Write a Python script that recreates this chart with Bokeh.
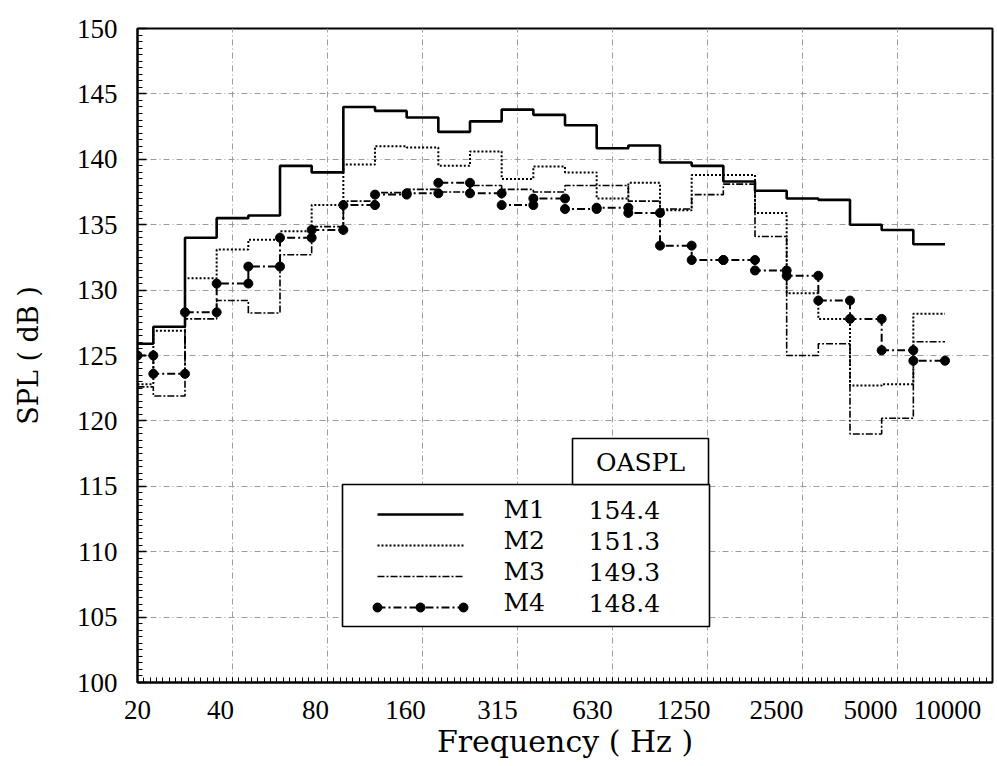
from bokeh.plotting import figure
from bokeh.models import FixedTicker, Range1d, CustomJSTickFormatter
from bokeh.core.properties import value
from bokeh.embed import file_html
from bokeh.resources import INLINE

# ---------------- data ----------------
bands = ["20", "25", "31.5", "40", "50", "63", "80", "100", "125", "160", "200", "250",
         "315", "400", "500", "630", "800", "1000", "1250", "1600", "2000", "2500",
         "3150", "4000", "5000", "6300", "8000", "10000"]
tick_bands = ["20", "40", "80", "160", "315", "630", "1250", "2500", "5000", "10000"]

m1 = [125.9, 127.2, 134.0, 135.5, 135.7, 139.5, 139.0, 144.0, 143.7, 143.2, 142.1, 142.9, 143.8,
      143.4, 142.6, 140.85, 141.05, 139.75, 139.5, 138.3, 137.6, 137.0, 136.9, 135.0, 134.6, 133.5]
m2 = [122.8, 126.9, 130.9, 133.1, 133.85, 134.5, 136.5, 139.6, 141.0, 140.9, 139.5, 140.6, 138.5,
      139.45, 139.0, 137.0, 138.2, 136.1, 138.8, 138.8, 135.9, 129.75, 127.8, 122.7, 122.8, 128.2]
m3 = [122.6, 121.9, 127.8, 129.2, 128.25, 132.7, 134.85, 136.8, 137.45, 137.7, 137.5, 138.0, 137.7,
      137.5, 138.0, 138.0, 136.8, 136.2, 137.3, 138.1, 134.1, 125.0, 125.9, 119.0, 120.2, 126.05]
m4 = [125.0, 123.6, 128.3, 130.5, 131.8, 134.0, 134.6, 136.5, 137.3, 137.4, 138.2, 137.4, 136.5,
      137.0, 136.2, 136.3, 135.9, 133.4, 132.3, 132.3, 131.5, 131.1, 129.2, 127.8, 125.4, 124.6]
names = ["M1", "M2", "M3", "M4"]
oaspl = ["154.4", "151.3", "149.3", "148.4"]
y_ticks = list(range(100, 151, 5))

# ---------------- layout helpers ----------------
FRAME_L, FRAME_T, FRAME_W, FRAME_H = 137, 28, 855, 654
X0, X1 = 0, len(bands) - 1
Y0, Y1 = 100, 150
PXB = FRAME_W / (X1 - X0)
PXD = FRAME_H / (Y1 - Y0)


def dx(px):
    return X0 + (px - FRAME_L) / PXB


def dy(py):
    return Y1 - (py - FRAME_T) / PXD


p = figure(width=997, height=762, output_backend="svg", toolbar_location=None,
           x_range=Range1d(X0, X1), y_range=Range1d(Y0, Y1),
           min_border_left=FRAME_L, min_border_right=5, min_border_top=FRAME_T,
           min_border_bottom=80,
           x_axis_label="Frequency ( Hz )", y_axis_label="SPL ( dB )")
p.background_fill_color = "white"
p.border_fill_color = "white"
p.outline_line_color = "black"
p.outline_line_width = 2

TICK_FONT = "Liberation Serif"
TICK_SIZE = "27px"

# ---------------- axes ----------------
tick_idx = [bands.index(t) for t in tick_bands]
# x tick labels sit a little left of their gridline (pixel nudges)
label_shift_px = [0, -12, -12, -17, -20, -20, -24, -26, -27, -45]
label_pos = [i + s / PXB for i, s in zip(tick_idx, label_shift_px)]
minor_x = [k * 0.2 for k in range(int((X1 - X0) / 0.2) + 1)]

xa = p.xaxis[0]
xa.ticker = FixedTicker(ticks=label_pos, minor_ticks=minor_x)
xa.formatter = CustomJSTickFormatter(args=dict(pos=label_pos, labs=tick_bands), code="""
let b = 0;
for (let i = 0; i < pos.length; i++) { if (Math.abs(pos[i] - tick) < Math.abs(pos[b] - tick)) b = i; }
return labs[b];
""")
xa.major_tick_line_color = None
xa.minor_tick_in = 5
xa.minor_tick_out = 0
xa.major_label_standoff = 12

ya = p.yaxis[0]
ya.ticker = FixedTicker(ticks=y_ticks, minor_ticks=[100 + 0.5 * k for k in range(101)])
ya.major_tick_in = 9
ya.major_tick_out = 0
ya.minor_tick_in = 5
ya.minor_tick_out = 0
ya.major_label_standoff = 20
ya.axis_label_standoff = 30

for ax in (xa, ya):
    ax.axis_line_color = "black"
    ax.axis_line_width = 2
    ax.major_tick_line_width = 1.5
    ax.minor_tick_line_color = "black"
    ax.major_label_text_font = TICK_FONT
    ax.major_label_text_font_size = TICK_SIZE
    ax.major_label_text_color = "black"
    ax.axis_label_text_font = "DejaVu Serif"
    ax.axis_label_text_font_style = "normal"
    ax.axis_label_text_color = "black"
xa.axis_label_text_font_size = "30px"
xa.axis_label_standoff = 2
ya.axis_label_text_font_size = "27px"

p.xgrid.ticker = FixedTicker(ticks=tick_idx)
p.ygrid.ticker = FixedTicker(ticks=y_ticks)
for g in (p.xgrid, p.ygrid):
    g.grid_line_color = "#9c9c9c"
    g.grid_line_dash = "6 3 1 3"
    g.grid_line_width = 1


# ---------------- series ----------------
def step_path(vals):
    xs, ys = [], []
    for i, v in enumerate(vals):
        xs += [max(i - 0.5, X0), i + 0.5]
        ys += [v, v]
    return xs, ys


styles = [dict(line_width=2.6, line_dash="solid"),
          dict(line_width=2.0, line_dash="2 2"),
          dict(line_width=1.6, line_dash="7 2 2 2"),
          dict(line_width=2.0, line_dash="8 3 2 3")]

for vals, st in zip([m1, m2, m3, m4], styles):
    xs, ys = step_path(vals)
    p.line(xs, ys, line_color="black", **st)
xs4, ys4 = step_path(m4)
p.scatter(xs4, ys4, marker="circle", size=9, fill_color="black", line_color="black")

# ---------------- legend (drawn manually) ----------------
LEG_FONT = value("DejaVu Serif")
LEG_SIZE = "25px"
p.quad(left=[dx(342)], right=[dx(709)], top=[dy(484)], bottom=[dy(626)],
       fill_color="white", line_color="black", line_width=1.6)
p.quad(left=[dx(572)], right=[dx(708)], top=[dy(438)], bottom=[dy(484)],
       fill_color="white", line_color="black", line_width=1.6)
p.text(x=[dx(640)], y=[dy(462)], text=["OASPL"], text_font=LEG_FONT,
       text_font_size=LEG_SIZE, text_align="center", text_baseline="middle", text_color="black")

row_py = [509, 540, 571, 602]
for k, (nm, oa, st) in enumerate(zip(names, oaspl, styles)):
    yl = dy(row_py[k] + 5)
    p.line([dx(377), dx(463)], [yl, yl], line_color="black", **st)
    p.text(x=[dx(503)], y=[dy(row_py[k])], text=[nm], text_font=LEG_FONT,
           text_font_size=LEG_SIZE, text_align="left", text_baseline="middle", text_color="black")
    p.text(x=[dx(588)], y=[dy(row_py[k])], text=[oa], text_font=LEG_FONT,
           text_font_size=LEG_SIZE, text_align="left", text_baseline="middle", text_color="black")
yl4 = dy(row_py[3] + 5)
p.scatter([dx(377), dx(420), dx(463)], [yl4] * 3, marker="circle", size=9,
          fill_color="black", line_color="black")

open("out.html", "w").write(file_html(p, INLINE))
